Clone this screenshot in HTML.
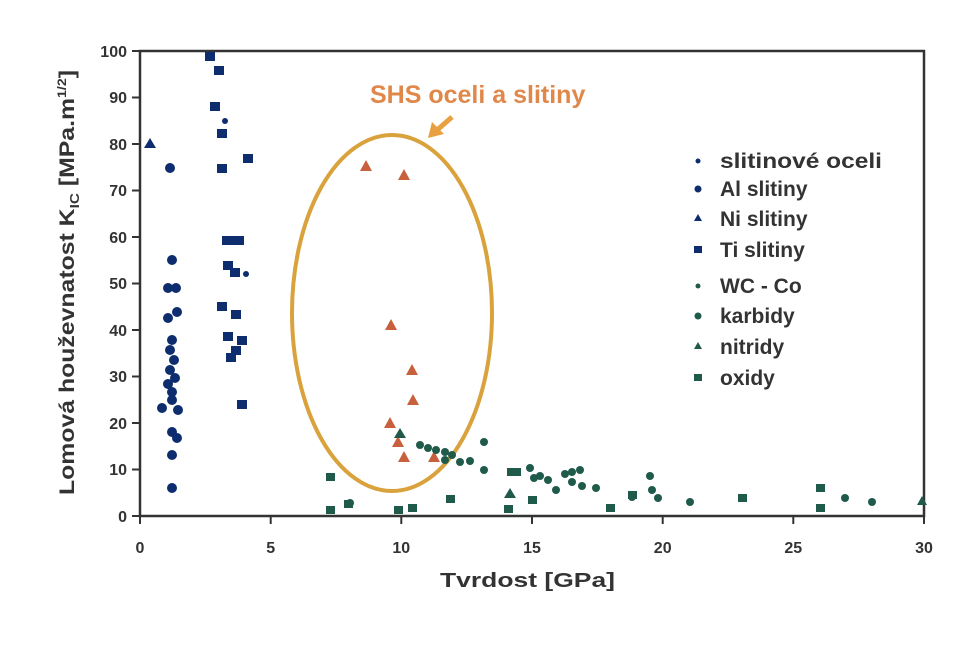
<!DOCTYPE html>
<html><head><meta charset="utf-8"><style>body{margin:0;background:#fff}</style></head><body>
<svg width="974" height="650" xmlns="http://www.w3.org/2000/svg" font-family="Liberation Sans, sans-serif" font-weight="bold">
<rect width="974" height="650" fill="#fff"/>
<rect x="140" y="51" width="784" height="465" fill="none" stroke="#333" stroke-width="2.5"/>
<g stroke="#333" stroke-width="2">
<line x1="140" y1="516" x2="132" y2="516"/><line x1="140" y1="469.5" x2="132" y2="469.5"/><line x1="140" y1="423" x2="132" y2="423"/><line x1="140" y1="376.5" x2="132" y2="376.5"/><line x1="140" y1="330" x2="132" y2="330"/><line x1="140" y1="283.5" x2="132" y2="283.5"/><line x1="140" y1="237" x2="132" y2="237"/><line x1="140" y1="190.5" x2="132" y2="190.5"/><line x1="140" y1="144" x2="132" y2="144"/><line x1="140" y1="97.5" x2="132" y2="97.5"/><line x1="140" y1="51" x2="132" y2="51"/>
<line x1="140" y1="516" x2="140" y2="524"/><line x1="270.7" y1="516" x2="270.7" y2="524"/><line x1="401.3" y1="516" x2="401.3" y2="524"/><line x1="532" y1="516" x2="532" y2="524"/><line x1="662.7" y1="516" x2="662.7" y2="524"/><line x1="793.3" y1="516" x2="793.3" y2="524"/><line x1="924" y1="516" x2="924" y2="524"/>
</g>
<g font-size="16" fill="#333" text-anchor="end">
<text x="127" y="522">0</text><text x="127" y="475">10</text><text x="127" y="429">20</text><text x="127" y="382">30</text><text x="127" y="336">40</text><text x="127" y="289">50</text><text x="127" y="243">60</text><text x="127" y="196">70</text><text x="127" y="150">80</text><text x="127" y="103">90</text><text x="127" y="57">100</text>
</g>
<g font-size="16" fill="#333" text-anchor="middle">
<text x="140" y="553">0</text><text x="270.7" y="553">5</text><text x="401.3" y="553">10</text><text x="532" y="553">15</text><text x="662.7" y="553">20</text><text x="793.3" y="553">25</text><text x="924" y="553">30</text>
</g>
<text x="440" y="587" font-size="20" fill="#333" textLength="175" lengthAdjust="spacingAndGlyphs">Tvrdost  [GPa]</text>
<text transform="translate(74,495) rotate(-90)" font-size="21" fill="#333" textLength="425" lengthAdjust="spacingAndGlyphs">Lomová houževnatost K<tspan font-size="13" dy="5">IC</tspan><tspan dy="-5"> [MPa.m</tspan><tspan font-size="12" dy="-8">1/2</tspan><tspan dy="8">]</tspan></text>
<ellipse cx="392" cy="313" rx="100" ry="178" fill="none" stroke="#d9a23c" stroke-width="4"/>
<text x="370" y="103" font-size="25" fill="#e0884a">SHS oceli a slitiny</text>
<path d="M452 117 L436 131" stroke="#e8a040" stroke-width="5"/>
<path d="M428 138 L432 122 L444 134 Z" fill="#e8a040"/>
<g fill="#0d2d6e">
<circle cx="170" cy="168" r="5"/><circle cx="172" cy="260" r="5"/><circle cx="168" cy="288" r="5"/><circle cx="176" cy="288" r="5"/><circle cx="168" cy="318" r="5"/><circle cx="177" cy="312" r="5"/><circle cx="172" cy="340" r="5"/><circle cx="170" cy="350" r="5"/><circle cx="174" cy="360" r="5"/><circle cx="170" cy="370" r="5"/><circle cx="175" cy="378" r="5"/><circle cx="168" cy="384" r="5"/><circle cx="172" cy="392" r="5"/><circle cx="162" cy="408" r="5"/><circle cx="178" cy="410" r="5"/><circle cx="172" cy="432" r="5"/><circle cx="177" cy="438" r="5"/><circle cx="172" cy="455" r="5"/><circle cx="172" cy="488" r="5"/><circle cx="172" cy="400" r="5"/>
<path d="M150 138 L156 148 L144 148 Z"/>
<rect x="205" y="52" width="10" height="9"/><rect x="214" y="66" width="10" height="9"/><rect x="210" y="102" width="10" height="9"/><rect x="217" y="129" width="10" height="9"/><rect x="217" y="164" width="10" height="9"/><rect x="243" y="154" width="10" height="9"/><rect x="222" y="236" width="22" height="9"/><rect x="223" y="261" width="10" height="9"/><rect x="230" y="268" width="10" height="9"/><rect x="217" y="302" width="10" height="9"/><rect x="231" y="310" width="10" height="9"/><rect x="223" y="332" width="10" height="9"/><rect x="237" y="336" width="10" height="9"/><rect x="231" y="346" width="10" height="9"/><rect x="226" y="353" width="10" height="9"/><rect x="237" y="400" width="10" height="9"/>
<circle cx="225" cy="121" r="3"/><circle cx="246" cy="274" r="3"/>
</g>
<g fill="#c8603e">
<path d="M366 160 L372 171 L360 171 Z"/><path d="M404 169 L410 180 L398 180 Z"/><path d="M391 319 L397 330 L385 330 Z"/><path d="M412 364 L418 375 L406 375 Z"/><path d="M413 394 L419 405 L407 405 Z"/><path d="M390 417 L396 428 L384 428 Z"/><path d="M398 436 L404 447 L392 447 Z"/><path d="M404 451 L410 462 L398 462 Z"/><path d="M434 451 L440 462 L428 462 Z"/>
</g>
<g fill="#1f5a4a">
<rect x="326" y="473" width="9" height="8"/><rect x="326" y="506" width="9" height="8"/><rect x="344" y="500" width="9" height="8"/><rect x="394" y="506" width="9" height="8"/><rect x="408" y="504" width="9" height="8"/><rect x="446" y="495" width="9" height="8"/><rect x="504" y="505" width="9" height="8"/><rect x="528" y="496" width="9" height="8"/><rect x="606" y="504" width="9" height="8"/><rect x="816" y="484" width="9" height="8"/><rect x="816" y="504" width="9" height="8"/><rect x="738" y="494" width="9" height="8"/><rect x="628" y="491" width="9" height="8"/><rect x="507" y="468" width="14" height="8"/>
<path d="M400 428 L406 438 L394 438 Z"/><path d="M510 488 L516 498 L504 498 Z"/><path d="M922 496 L927 505 L917 505 Z"/>
<circle cx="350" cy="503" r="4"/><circle cx="420" cy="445" r="4"/><circle cx="428" cy="448" r="4"/><circle cx="436" cy="450" r="4"/><circle cx="445" cy="452" r="4"/><circle cx="452" cy="455" r="4"/><circle cx="460" cy="462" r="4"/><circle cx="470" cy="461" r="4"/><circle cx="484" cy="442" r="4"/><circle cx="484" cy="470" r="4"/><circle cx="530" cy="468" r="4"/><circle cx="534" cy="478" r="4"/><circle cx="540" cy="476" r="4"/><circle cx="548" cy="480" r="4"/><circle cx="556" cy="490" r="4"/><circle cx="565" cy="474" r="4"/><circle cx="572" cy="472" r="4"/><circle cx="572" cy="482" r="4"/><circle cx="580" cy="470" r="4"/><circle cx="582" cy="486" r="4"/><circle cx="596" cy="488" r="4"/><circle cx="632" cy="497" r="4"/><circle cx="650" cy="476" r="4"/><circle cx="652" cy="490" r="4"/><circle cx="658" cy="498" r="4"/><circle cx="690" cy="502" r="4"/><circle cx="845" cy="498" r="4"/><circle cx="872" cy="502" r="4"/><circle cx="445" cy="460" r="4"/>
</g>
<g font-size="21" fill="#333">
<circle cx="698" cy="161" r="2.5" fill="#0d2d6e"/><text x="720" y="168" textLength="162" lengthAdjust="spacingAndGlyphs">slitinové oceli</text>
<circle cx="698" cy="189" r="3.5" fill="#0d2d6e"/><text x="720" y="196">Al slitiny</text>
<path d="M698 214 L702 221 L694 221 Z" fill="#0d2d6e"/><text x="720" y="226">Ni slitiny</text>
<rect x="694" y="246" width="8" height="7" fill="#0d2d6e"/><text x="720" y="257">Ti slitiny</text>
<circle cx="698" cy="286" r="2.5" fill="#1f5a4a"/><text x="720" y="293">WC - Co</text>
<circle cx="698" cy="316" r="3.5" fill="#1f5a4a"/><text x="720" y="323">karbidy</text>
<path d="M698 342 L702 349 L694 349 Z" fill="#1f5a4a"/><text x="720" y="354">nitridy</text>
<rect x="694" y="374" width="8" height="7" fill="#1f5a4a"/><text x="720" y="385">oxidy</text>
</g>
</svg>
</body></html>
